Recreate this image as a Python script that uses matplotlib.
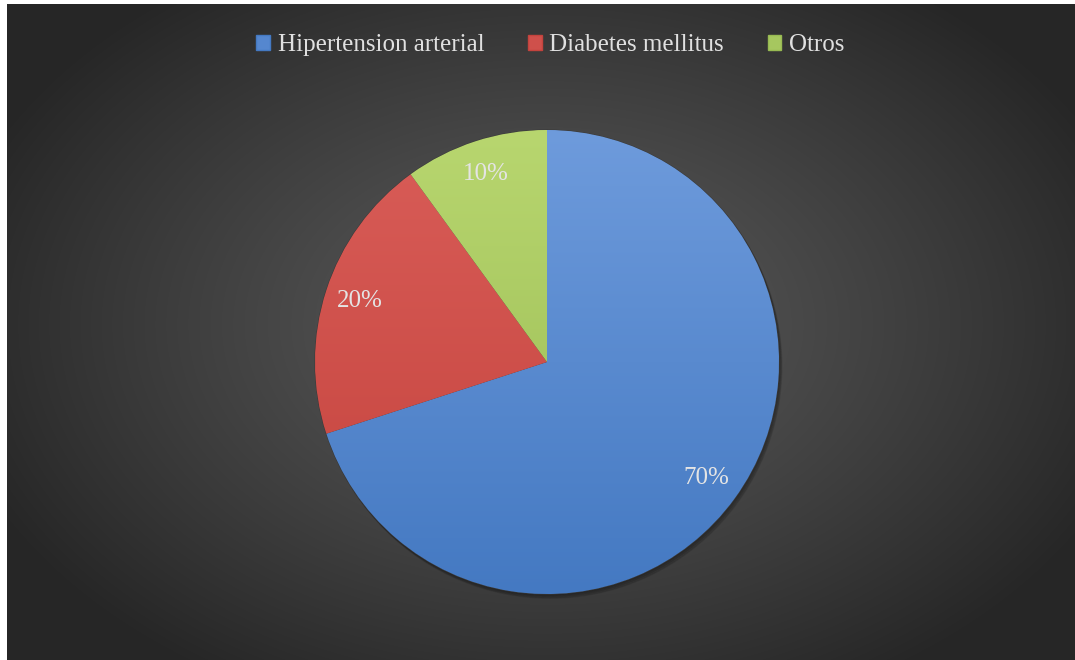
import matplotlib.pyplot as plt
import matplotlib.patches as mpatches
import numpy as np

categorias = ["Hipertension arterial", "Diabetes mellitus", "Otros"]
valores = [70, 20, 10]
etiquetas = ["70%", "20%", "10%"]

# colores (arriba, abajo) de cada porcion
col_arriba = ["#6e9bdc", "#d95d58", "#b8d66f"]
col_abajo = ["#4479c2", "#c4433d", "#98ba52"]
col_base = ["#5587cf", "#cf504b", "#a6c75f"]

fig = plt.figure(figsize=(10.75, 6.6), dpi=100)
fig.patch.set_facecolor("white")

# fondo con degradado radial
bg = fig.add_axes([7 / 1075, 0, 1 - 7 / 1075, 656 / 660])
bg.set_axis_off()
yy, xx = np.mgrid[0:656, 0:1068]
d = np.sqrt(((xx - 540) / 620.0) ** 2 + ((yy - 320) / 420.0) ** 2)
d = np.clip(d, 0, 1)
claro, oscuro = 0x5a, 0x26
g = (claro + (oscuro - claro) * d ** 1.2) / 255.0
bg.imshow(np.dstack([g, g, g]), aspect="auto", extent=[0, 1, 0, 1], origin="upper")
bg.set_xlim(0, 1)
bg.set_ylim(0, 1)

cx, cy, r = 547, 362, 232
ax = fig.add_axes([(cx - r) / 1075, (660 - cy - r) / 660, 2 * r / 1075, 2 * r / 660])
ax.set_axis_off()

# sombra suave
for k, a in enumerate([0.10, 0.10, 0.10]):
    s = mpatches.Circle((0.004 * (k + 1), -0.006 * (k + 1)), 1.0, color="black",
                        alpha=a, zorder=0, clip_on=False)
    ax.add_patch(s)

wedges, textos, autotextos = ax.pie(
    valores,
    colors=col_base,
    startangle=90,
    counterclock=False,
    autopct=lambda p: "%d%%" % round(p),
    pctdistance=0.85,
    wedgeprops=dict(edgecolor="#3a3a3a", linewidth=0.8),
    textprops=dict(color="#e4e4e4", fontsize=18, family="Liberation Serif"),
)

for i, w in enumerate(wedges):
    c1 = np.array(plt.matplotlib.colors.to_rgb(col_arriba[i]))
    c2 = np.array(plt.matplotlib.colors.to_rgb(col_abajo[i]))
    t = np.linspace(0, 1, 200)[:, None]
    grad = c1 + (c2 - c1) * t
    img = ax.imshow(grad[:, None, :].repeat(2, axis=1), extent=[-1, 1, -1, 1],
                    aspect="auto", origin="upper", zorder=1.5)
    img.set_clip_path(w)
    w.set_zorder(1)
    w.set_clip_on(False)

for t in autotextos:
    t.set_zorder(3)

ax.set_xlim(-1.0, 1.0)
ax.set_ylim(-1.0, 1.0)

handles = [mpatches.Patch(facecolor=col_base[i], edgecolor=col_abajo[i]) for i in range(3)]
leg = fig.legend(handles, categorias, loc="center", bbox_to_anchor=(0.512, 0.932), ncol=3,
                 frameon=False, handlelength=0.55, handleheight=0.55, handletextpad=0.3,
                 columnspacing=1.75, prop=dict(family="Liberation Serif", size=18))
for t in leg.get_texts():
    t.set_color("#e0e0e0")

fig.savefig("out.png", dpi=100, facecolor=fig.get_facecolor())
